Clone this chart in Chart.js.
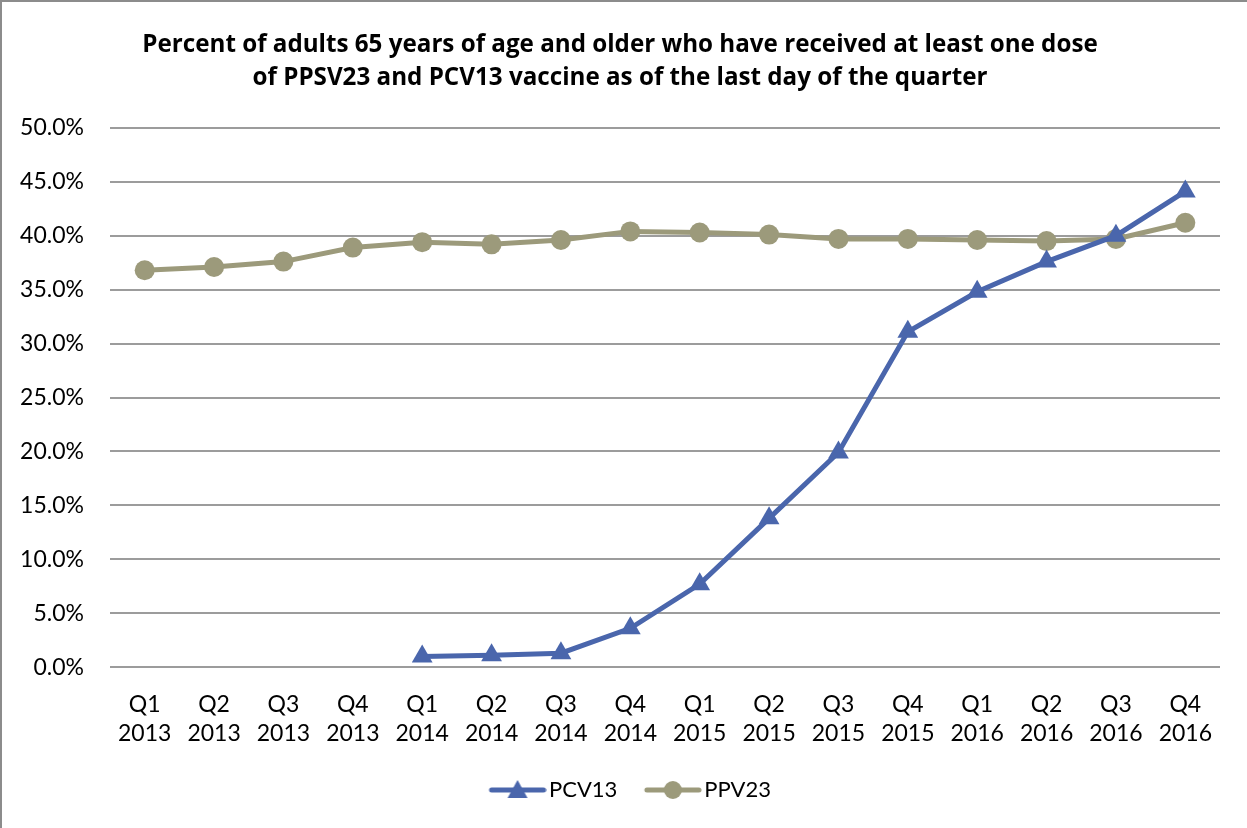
<!DOCTYPE html>
<html>
<head>
<meta charset="utf-8">
<script src="https://cdn.jsdelivr.net/npm/chart.js@4"></script>
<style>
  html, body { margin: 0; padding: 0; background: #fff; }
  #wrap { position: relative; width: 1247px; height: 828px; box-sizing: border-box; border-left: 2px solid #8c8c8c; border-top: 2px solid #8c8c8c; }
  canvas { display: block; }
</style>
</head>
<body>
<div id="wrap"><canvas id="grafik" width="1245" height="826"></canvas></div>
<script>
const kuartal = ['Q1', 'Q2', 'Q3', 'Q4', 'Q1', 'Q2', 'Q3', 'Q4', 'Q1', 'Q2', 'Q3', 'Q4', 'Q1', 'Q2', 'Q3', 'Q4'];
const tahun = ['2013', '2013', '2013', '2013', '2014', '2014', '2014', '2014', '2015', '2015', '2015', '2015', '2016', '2016', '2016', '2016'];
const pcv13 = [null, null, null, null, 1.0, 1.1, 1.3, 3.6, 7.7, 13.8, 19.9, 31.1, 34.8, 37.6, 40.0, 44.1];
const ppv23 = [36.8, 37.1, 37.6, 38.9, 39.4, 39.2, 39.6, 40.4, 40.3, 40.1, 39.7, 39.7, 39.6, 39.5, 39.7, 41.2];
const judul = [
    'Percent of adults 65 years of age and older who have received at least one dose',
    'of PPSV23 and PCV13 vaccine as of the last day of the quarter'
];

const warnaPcv = '#4a66ac';
const warnaPpv = '#9c9a7b';
const hurufDasar = 'Lato, "Open Sans", sans-serif';

// ikon legenda: garis dengan penanda di tengah (digeser supaya teks dekat)
function buatIkon(warna, bentuk) {
    const c = document.createElement('canvas');
    c.width = 66; c.height = 24;
    const g = c.getContext('2d');
    g.strokeStyle = warna;
    g.lineWidth = 5;
    g.lineCap = 'round';
    g.beginPath(); g.moveTo(11, 12); g.lineTo(63, 12); g.stroke();
    g.fillStyle = warna;
    g.beginPath();
    if (bentuk === 'segitiga') {
        g.moveTo(37, 2); g.lineTo(47, 20); g.lineTo(27, 20); g.closePath();
    } else {
        g.arc(37, 12, 9, 0, Math.PI * 2);
    }
    g.fill();
    return c;
}
const ikonPcv = buatIkon(warnaPcv, 'segitiga');
const ikonPpv = buatIkon(warnaPpv, 'bulat');

// geser judul dan legenda sedikit ke kanan seperti gambar aslinya
const geserKotak = {
    id: 'geserKotak',
    afterLayout(chart) {
        chart.titleBlock.left += 7; chart.titleBlock.right += 7;
        chart.legend.left += 17; chart.legend.right += 17;
    }
};

const ctx = document.getElementById('grafik').getContext('2d');
const grafik = new Chart(ctx, {
    type: 'line',
    data: {
        labels: kuartal.map((q, i) => [q, tahun[i]]),
        datasets: [
            { label: 'PCV13', data: pcv13, borderColor: warnaPcv, backgroundColor: warnaPcv, borderWidth: 5,
              pointStyle: 'triangle', pointRadius: 12, pointHoverRadius: 12, pointBorderWidth: 0, tension: 0 },
            { label: 'PPV23', data: ppv23, borderColor: warnaPpv, backgroundColor: warnaPpv, borderWidth: 5,
              pointStyle: 'circle', pointRadius: 10, pointHoverRadius: 10, pointBorderWidth: 0, tension: 0 }
        ]
    },
    plugins: [geserKotak],
    options: {
        responsive: false,
        animation: false,
        devicePixelRatio: 1,
        layout: { padding: { left: 4, right: 27, top: 14, bottom: 17 } },
        plugins: {
            title: {
                display: true, text: judul, color: '#000',
                font: { family: '"Open Sans", Lato, sans-serif', size: 24.2, weight: 'bold', lineHeight: 1.36 },
                padding: { top: 13, bottom: 33 }
            },
            legend: {
                position: 'bottom',
                labels: {
                    color: '#000', font: { family: hurufDasar, size: 22 },
                    usePointStyle: true, pointStyleWidth: 49, padding: 27,
                    generateLabels: function(chart) {
                        return chart.data.datasets.map((ds, i) => ({
                            text: ds.label, fillStyle: ds.borderColor, strokeStyle: ds.borderColor,
                            pointStyle: i === 0 ? ikonPcv : ikonPpv, datasetIndex: i, lineWidth: 0, fontColor: '#000'
                        }));
                    }
                }
            },
            tooltip: { enabled: false }
        },
        scales: {
            y: {
                min: 0, max: 50,
                ticks: { stepSize: 5, color: '#000', font: { family: hurufDasar, size: 23 }, padding: 26,
                         callback: v => v.toFixed(1) + '%' },
                grid: { color: '#9c9c9c', lineWidth: 2, drawTicks: false },
                border: { display: false },
                afterFit: s => { s.width = 104; }
            },
            x: {
                offset: true,
                ticks: { color: '#000', font: { family: hurufDasar, size: 23, lineHeight: 1.3 }, padding: 14,
                         maxRotation: 0, autoSkip: false },
                grid: { display: false },
                border: { display: false },
                afterFit: s => { s.height = s.height - 11; }
            }
        }
    }
});
</script>
</body>
</html>
